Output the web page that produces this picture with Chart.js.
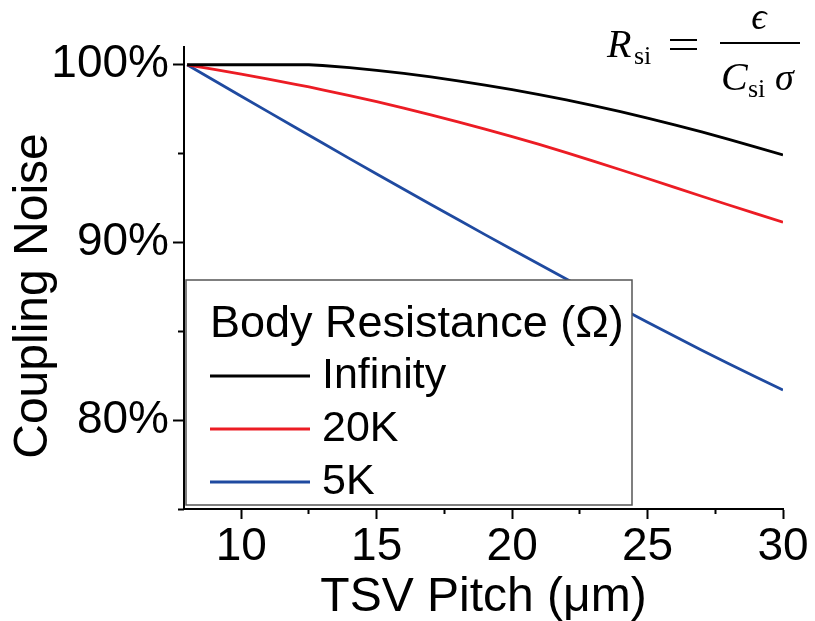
<!DOCTYPE html>
<html>
<head>
<meta charset="utf-8">
<script src="https://cdn.jsdelivr.net/npm/chart.js@4/dist/chart.umd.min.js"></script>
<style>
  html, body { margin: 0; padding: 0; background: #fff; }
  canvas { display: block; }
</style>
</head>
<body>
<canvas id="canvas" width="815" height="621"></canvas>
<script>
// TSV pitch (um) on the x axis
const pitch = [8, 9, 10, 11, 12, 12.5, 13, 14, 15, 16, 17, 18, 19, 20, 21, 22, 23, 24, 25, 26, 27, 28, 29, 30];

// coupling noise in %, one list per body resistance
const noiseInfinity = [100, 100, 100, 100, 100, 100, 99.96, 99.84, 99.69, 99.52, 99.32, 99.10, 98.86, 98.60, 98.32, 98.02, 97.70, 97.36, 97.00, 96.62, 96.22, 95.80, 95.37, 94.93];
const noise20K = [100, 99.74, 99.47, 99.19, 98.90, 98.75, 98.59, 98.26, 97.92, 97.56, 97.18, 96.79, 96.38, 95.96, 95.52, 95.06, 94.58, 94.09, 93.60, 93.10, 92.60, 92.11, 91.62, 91.14];
const noise5K = [100, 99.11, 98.23, 97.35, 96.47, 96.03, 95.60, 94.72, 93.85, 92.99, 92.14, 91.29, 90.44, 89.60, 88.77, 87.94, 87.12, 86.31, 85.51, 84.72, 83.94, 83.18, 82.43, 81.70];

const seriesLabels = ['Infinity', '20K', '5K'];
const seriesColors = ['#000000', '#ec1c24', '#1f4aa0'];

const xMajorTicks = [10, 15, 20, 25, 30];
const xMinorTicks = [12.5, 17.5, 22.5, 27.5];
const yMajorTicks = [80, 90, 100];
const yMinorTicks = [75, 85, 95];

const SANS = '"Liberation Sans", Arial, Helvetica, sans-serif';
const SERIF = '"Liberation Serif", "DejaVu Serif", serif';

function toPoints(values) {
    return pitch.map((x, i) => ({ x: x, y: values[i] }));
}

// legend box in the lower left of the plot, drawn over the lines
const legendBox = {
    id: 'legendBox',
    afterDraw(chart) {
        const ctx = chart.ctx;
        ctx.save();
        ctx.fillStyle = '#fff';
        ctx.fillRect(186, 280, 446, 225);
        ctx.strokeStyle = '#555';
        ctx.lineWidth = 1.5;
        ctx.strokeRect(186, 280, 446, 225);

        ctx.fillStyle = '#000';
        ctx.textBaseline = 'middle';
        ctx.textAlign = 'left';
        ctx.font = '45px ' + SANS;
        ctx.fillText('Body Resistance (\u03A9)', 210, 325);

        ctx.font = '43px ' + SANS;
        chart.data.datasets.forEach((ds, i) => {
            const y = 376 + i * 53;
            ctx.strokeStyle = ds.borderColor;
            ctx.lineWidth = 2.8;
            ctx.beginPath();
            ctx.moveTo(210, y);
            ctx.lineTo(310, y);
            ctx.stroke();
            ctx.fillStyle = '#000';
            ctx.fillText(ds.label, 322, y);
        });
        ctx.restore();
    }
};

// y axis title and the R_si formula in the top right corner
const extraText = {
    id: 'extraText',
    afterDraw(chart) {
        const ctx = chart.ctx;
        ctx.save();
        ctx.fillStyle = '#000';

        ctx.translate(34, 296);
        ctx.rotate(-Math.PI / 2);
        ctx.textAlign = 'center';
        ctx.textBaseline = 'middle';
        ctx.font = '48px ' + SANS;
        ctx.fillText('Coupling Noise', 0, 0);
        ctx.setTransform(1, 0, 0, 1, 0, 0);

        ctx.textAlign = 'left';
        ctx.textBaseline = 'alphabetic';
        ctx.font = 'italic 40px ' + SERIF;
        ctx.fillText('R', 607, 57);
        ctx.font = '26px ' + SERIF;
        ctx.fillText('si', 634, 64);
        // equals sign
        ctx.fillRect(670, 39, 27, 2);
        ctx.fillRect(670, 48, 27, 2);

        // fraction eps / (C_si sigma)
        ctx.fillRect(720, 42, 80, 2);
        ctx.font = 'italic 38px ' + SERIF;
        ctx.textAlign = 'center';
        ctx.fillText('\u03F5', 759, 29);
        ctx.textAlign = 'left';
        ctx.font = 'italic 40px ' + SERIF;
        ctx.fillText('C', 721, 90);
        ctx.font = '26px ' + SERIF;
        ctx.fillText('si', 748, 97);
        ctx.font = 'italic 38px ' + SERIF;
        ctx.fillText('\u03C3', 775, 90);
        ctx.restore();
    }
};

function tickGrid(len) {
    return { drawOnChartArea: false, drawTicks: true, tickLength: len, tickWidth: 2, tickColor: '#000' };
}

new Chart(document.getElementById('canvas'), {
    type: 'line',
    data: {
        datasets: [
            { label: seriesLabels[0], data: toPoints(noiseInfinity), borderColor: seriesColors[0] },
            { label: seriesLabels[1], data: toPoints(noise20K), borderColor: seriesColors[1] },
            { label: seriesLabels[2], data: toPoints(noise5K), borderColor: seriesColors[2] },
        ]
    },
    options: {
        responsive: false,
        animation: false,
        layout: { padding: { top: 47, right: 32, left: 0, bottom: 0 } },
        elements: {
            line: { borderWidth: 2.8, tension: 0, fill: false },
            point: { radius: 0 }
        },
        plugins: {
            legend: { display: false },
            tooltip: { enabled: false }
        },
        scales: {
            x: {
                type: 'linear',
                position: 'bottom',
                weight: 1,
                min: 7.886,
                max: 30,
                afterBuildTicks: (s) => { s.ticks = xMajorTicks.map(v => ({ value: v })); },
                afterFit: (s) => { s.height = 112; },
                grid: tickGrid(10),
                border: { display: true, color: '#000', width: 2 },
                ticks: { autoSkip: false, color: '#000', padding: 1, font: { family: SANS, size: 46 } },
                title: {
                    display: true, text: 'TSV Pitch (\u03BCm)', color: '#000',
                    font: { family: SANS, size: 48 }, padding: { top: 0, bottom: -6 }
                }
            },
            xMinor: {
                type: 'linear',
                position: 'bottom',
                weight: 0,
                min: 7.886,
                max: 30,
                afterBuildTicks: (s) => { s.ticks = xMinorTicks.map(v => ({ value: v })); },
                afterFit: (s) => { s.height = 0; },
                grid: tickGrid(5),
                border: { display: false },
                ticks: { display: false }
            },
            y: {
                type: 'linear',
                position: 'left',
                weight: 1,
                min: 75,
                max: 101,
                afterBuildTicks: (s) => { s.ticks = yMajorTicks.map(v => ({ value: v })); },
                afterFit: (s) => { s.width = 184; },
                grid: tickGrid(11),
                border: { display: true, color: '#000', width: 2 },
                ticks: {
                    autoSkip: false, color: '#000', padding: 4,
                    font: { family: SANS, size: 46 },
                    callback: (v) => v + '%'
                }
            },
            yMinor: {
                type: 'linear',
                position: 'left',
                weight: 0,
                min: 75,
                max: 101,
                afterBuildTicks: (s) => { s.ticks = yMinorTicks.map(v => ({ value: v })); },
                afterFit: (s) => { s.width = 0; },
                grid: tickGrid(6),
                border: { display: false },
                ticks: { display: false }
            }
        }
    },
    plugins: [legendBox, extraText]
});
</script>
</body>
</html>
